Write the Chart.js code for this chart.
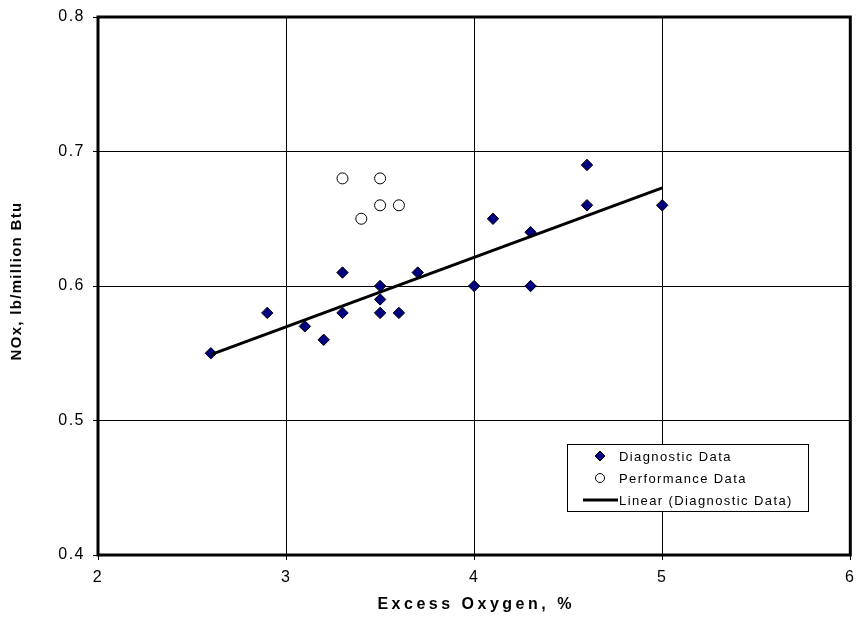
<!DOCTYPE html>
<html>
<head>
<meta charset="utf-8">
<script src="https://cdn.jsdelivr.net/npm/chart.js@4.4.0/dist/chart.umd.min.js"></script>
<style>
  html, body { margin: 0; padding: 0; background: #fff; }
  #wrap { width: 857px; height: 625px; }
</style>
</head>
<body>
<div id="wrap"><canvas id="noxChart" width="857" height="625"></canvas></div>
<script>
// --- Data ---
const diagX = [2.6, 2.9, 3.1, 3.2, 3.3, 3.3, 3.5, 3.5, 3.5, 3.6, 3.7, 4.0, 4.1, 4.3, 4.3, 4.6, 4.6, 5.0];
const diagY = [0.55, 0.58, 0.57, 0.56, 0.61, 0.58, 0.60, 0.59, 0.58, 0.58, 0.61, 0.60, 0.65, 0.64, 0.60, 0.69, 0.66, 0.66];
const perfX = [3.3, 3.5, 3.4, 3.5, 3.6];
const perfY = [0.68, 0.68, 0.65, 0.66, 0.66];
// trend line end points (Linear (Diagnostic Data))
const trendX = [2.6, 5.0];
const trendY = [0.549, 0.673];

const xTicks = [2, 3, 4, 5, 6];
const yTicks = [0.4, 0.5, 0.6, 0.7, 0.8];

const legendItems = ['Diagnostic Data', 'Performance Data', 'Linear (Diagnostic Data)'];

const toPts = (xs, ys) => xs.map((x, i) => ({ x: x, y: ys[i] }));

// --- Frame, axis titles and legend box ---
const extrasPlugin = {
    id: 'extras',
    beforeDraw(chart) {
        chart.ctx.letterSpacing = '1.5px';
    },
    afterDraw(chart) {
        const ctx = chart.ctx;
        const a = chart.chartArea;
        ctx.save();

        // thick frame
        ctx.strokeStyle = '#000';
        ctx.lineWidth = 3;
        ctx.strokeRect(a.left, a.top, a.right - a.left, a.bottom - a.top);

        // axis titles
        ctx.fillStyle = '#000';
        ctx.textAlign = 'center';
        ctx.textBaseline = 'middle';
        ctx.font = 'bold 16px "Liberation Sans", Arial, sans-serif';
        ctx.letterSpacing = '3.5px';
        ctx.fillText('Excess Oxygen, %', (a.left + a.right) / 2 + 2, 605);

        ctx.save();
        ctx.translate(17, 281);
        ctx.rotate(-Math.PI / 2);
        ctx.font = 'bold 15px "Liberation Sans", Arial, sans-serif';
        ctx.letterSpacing = '1.3px';
        ctx.fillText('NOx, lb/million Btu', 0, 0);
        ctx.restore();

        // legend
        const bx = 567, by = 444, bw = 241, bh = 67;
        ctx.fillStyle = '#fff';
        ctx.fillRect(bx, by, bw, bh);
        ctx.strokeStyle = '#000';
        ctx.lineWidth = 1;
        ctx.strokeRect(bx + 0.5, by + 0.5, bw, bh);

        const rows = [456, 478, 500];
        // diamond
        ctx.beginPath();
        ctx.moveTo(600, rows[0] - 5);
        ctx.lineTo(605, rows[0]);
        ctx.lineTo(600, rows[0] + 5);
        ctx.lineTo(595, rows[0]);
        ctx.closePath();
        ctx.fillStyle = '#000080';
        ctx.fill();
        ctx.stroke();
        // circle
        ctx.beginPath();
        ctx.arc(600, rows[1], 4.5, 0, Math.PI * 2);
        ctx.fillStyle = '#fff';
        ctx.fill();
        ctx.stroke();
        // line
        ctx.beginPath();
        ctx.lineWidth = 3;
        ctx.moveTo(583, rows[2]);
        ctx.lineTo(618, rows[2]);
        ctx.stroke();

        ctx.fillStyle = '#000';
        ctx.textAlign = 'left';
        ctx.font = '13px "Liberation Sans", Arial, sans-serif';
        ctx.letterSpacing = '1.4px';
        legendItems.forEach((t, i) => ctx.fillText(t, 619, rows[i] + 1));

        ctx.restore();
    }
};

new Chart(document.getElementById('noxChart'), {
    type: 'scatter',
    data: {
        datasets: [
            {
                label: legendItems[0],
                data: toPts(diagX, diagY),
                pointStyle: 'rectRot',
                pointRadius: 5.7,
                pointBackgroundColor: '#000080',
                pointBorderColor: '#000',
                pointBorderWidth: 1,
                order: 1
            },
            {
                label: legendItems[1],
                data: toPts(perfX, perfY),
                pointStyle: 'circle',
                pointRadius: 5.5,
                pointBackgroundColor: '#fff',
                pointBorderColor: '#000',
                pointBorderWidth: 1,
                order: 2
            },
            {
                label: legendItems[2],
                type: 'line',
                data: toPts(trendX, trendY),
                borderColor: '#000',
                borderWidth: 3,
                pointRadius: 0,
                fill: false,
                order: 0
            }
        ]
    },
    options: {
        responsive: false,
        animation: false,
        layout: { padding: { top: 17, right: 0, left: 0, bottom: 0 } },
        plugins: {
            legend: { display: false },
            tooltip: { enabled: false }
        },
        scales: {
            x: {
                type: 'linear',
                min: 2,
                max: 6,
                afterFit: s => { s.height = 70; s.paddingLeft = 0; s.paddingRight = 0; },
                afterBuildTicks: s => { s.ticks = xTicks.map(v => ({ value: v })); },
                grid: { color: '#000', lineWidth: 1, tickLength: 5, drawOnChartArea: true },
                border: { display: false },
                ticks: {
                    color: '#000',
                    padding: 8,
                    font: { family: '"Liberation Sans", Arial, sans-serif', size: 16 },
                    callback: v => String(v)
                }
            },
            y: {
                type: 'linear',
                min: 0.4,
                max: 0.8,
                afterFit: s => { s.width = 98; s.paddingTop = 0; s.paddingBottom = 0; },
                afterBuildTicks: s => { s.ticks = yTicks.map(v => ({ value: v })); },
                grid: { color: '#000', lineWidth: 1, tickLength: 5 },
                border: { display: false },
                ticks: {
                    color: '#000',
                    padding: 8,
                    font: { family: '"Liberation Sans", Arial, sans-serif', size: 16 },
                    callback: v => v.toFixed(1)
                }
            }
        }
    },
    plugins: [extrasPlugin]
});
</script>
</body>
</html>
